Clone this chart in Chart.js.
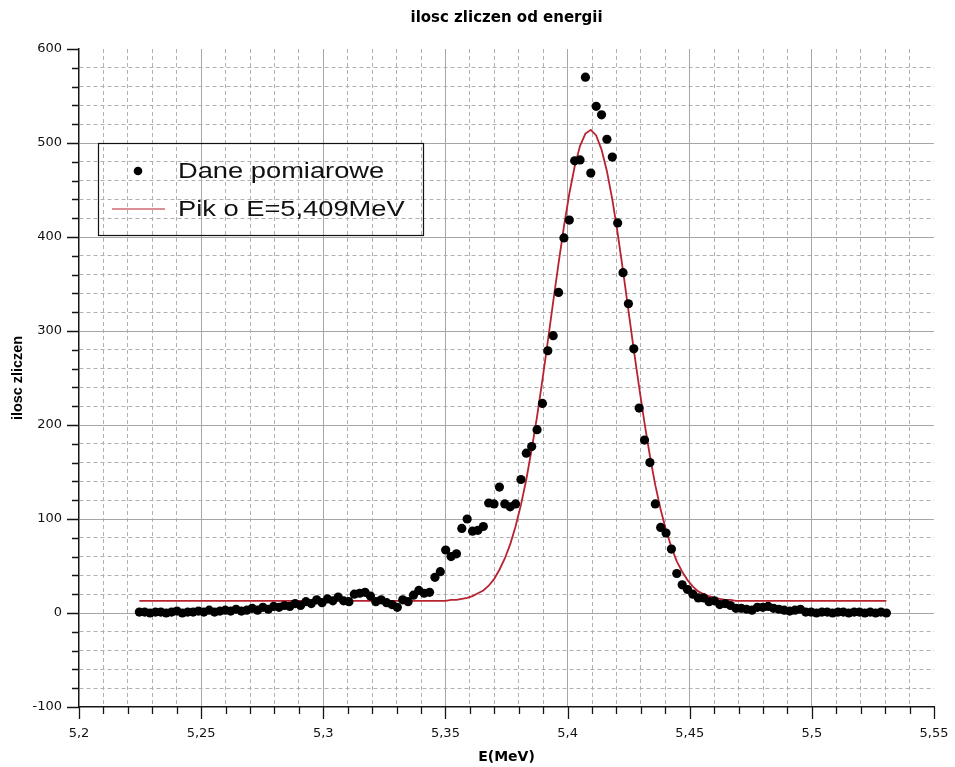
<!DOCTYPE html>
<html><head><meta charset="utf-8">
<script src="https://cdn.jsdelivr.net/npm/chart.js@4.4.1/dist/chart.umd.min.js"></script>
<style>html,body{margin:0;padding:0;background:#fff;}#wrap{width:955px;height:767px;}</style>
</head><body>
<div id="wrap"><canvas id="c" width="955" height="767"></canvas></div>
<script>
const chartTitle = 'ilosc zliczen od energii';
const xTitle = 'E(MeV)';
const yTitle = 'ilosc zliczen';
const seriesNames = ['Dane pomiarowe', 'Pik o E=5,409MeV'];
const xMajorTicks = [5.2, 5.25, 5.3, 5.35, 5.4, 5.45, 5.5, 5.55];
const yMajorTicks = [-100, 0, 100, 200, 300, 400, 500, 600];

const energyMeV = [
5.2247,5.2269,5.2291,5.2313,5.2335,5.2357,5.2379,5.2401,5.2423,5.2445,
5.2467,5.2489,5.2511,5.2533,5.2555,5.2577,5.2599,5.2621,5.2643,5.2665,
5.2687,5.2709,5.2731,5.2753,5.2775,5.2797,5.2819,5.2841,5.2863,5.2885,
5.2907,5.2929,5.2951,5.2973,5.2995,5.3017,5.3039,5.3061,5.3083,5.3105,
5.3127,5.3149,5.3171,5.3193,5.3215,5.3237,5.3259,5.3281,5.3303,5.3325,
5.3347,5.3369,5.3391,5.3413,5.3435,5.3457,5.3479,5.3501,5.3523,5.3545,
5.3567,5.3589,5.3611,5.3633,5.3655,5.3677,5.3699,5.3721,5.3743,5.3765,
5.3787,5.3809,5.3831,5.3853,5.3875,5.3897,5.3919,5.3941,5.3963,5.3985,
5.4007,5.4029,5.4051,5.4073,5.4095,5.4117,5.4139,5.4161,5.4183,5.4205,
5.4227,5.4249,5.4271,5.4293,5.4315,5.4337,5.4359,5.4381,5.4403,5.4425,
5.4447,5.4469,5.4491,5.4513,5.4535,5.4557,5.4579,5.4601,5.4623,5.4645,
5.4667,5.4689,5.4711,5.4733,5.4755,5.4777,5.4799,5.4821,5.4843,5.4865,
5.4887,5.4909,5.4931,5.4953,5.4975,5.4997,5.5019,5.5041,5.5063,5.5085,
5.5107,5.5129,5.5151,5.5173,5.5195,5.5217,5.5239,5.5261,5.5283,5.5305];

const counts = [
1,1,0,1,1,0,1,2,0,1,
1,2,1,3,1,2,3,2,4,2,
3,5,3,6,4,7,6,8,7,10,
8,12,10,14,11,15,13,17,13,12,
20,21,22,18,12,14,11,9,6,14,
12,19,24,21,22,38,44,67,60,63,
90,100,87,88,92,117,116,134,116,113,
116,142,170,177,195,223,279,295,341,399,
418,481,482,570,468,539,530,504,485,415,
362,329,281,218,184,160,116,91,85,68,
42,30,25,20,16,16,12,13,9,10,
8,5,5,4,3,6,6,7,5,4,
3,2,3,4,1,1,0,1,1,0,
1,1,0,1,1,0,1,0,1,0];

const fitCounts = [
13,13,13,13,13,13,13,13,13,13,
13,13,13,13,13,13,13,13,13,13,
13,13,13,13,13,13,13,13,13,13,
13,13,13,13,13,13,13,13,13,13,
13,13,13,13,13,13,13,13,13,13,
13,13,13,13,13,13,13,13,14,14,
15,16,18,21,24,29,36,46,58,73,
92,115,142,174,209,248,289,331,372,411,
446,475,497,510,514,508,493,470,440,404,
364,322,280,240,202,167,136,110,88,70,
55,44,35,28,23,20,18,16,15,14,
14,13,13,13,13,13,13,13,13,13,
13,13,13,13,13,13,13,13,13,13,
13,13,13,13,13,13,13,13,13,13];

const isMajorX = v => xMajorTicks.some(m => Math.abs(m - v) < 1e-6);
const isMajorY = v => yMajorTicks.some(m => Math.abs(m - v) < 1e-6);
const fmt = v => String(Math.round(v * 1000) / 1000).replace('.', ',');

const tickFont = {family: '"DejaVu Sans", sans-serif', size: 13};

const tickMarks = {
  id: 'tickMarks',
  afterDraw(chart) {
    const ctx = chart.ctx;
    const xs = chart.scales.x, ys = chart.scales.y;
    ctx.save();
    ctx.strokeStyle = '#151515';
    ctx.lineWidth = 1.3;
    ctx.beginPath();
    xs.ticks.forEach(t => {
      const px = Math.round(xs.getPixelForValue(t.value)) + 0.5;
      const len = isMajorX(t.value) ? 12 : 7;
      ctx.moveTo(px, ys.bottom); ctx.lineTo(px, ys.bottom + len);
    });
    ys.ticks.forEach(t => {
      const py = Math.round(ys.getPixelForValue(t.value)) + 0.5;
      const len = isMajorY(t.value) ? 12 : 7;
      ctx.moveTo(xs.left, py); ctx.lineTo(xs.left - len, py);
    });
    ctx.stroke();
    ctx.restore();
  }
};

const boxLegend = {
  id: 'boxLegend',
  afterDraw(chart) {
    const ctx = chart.ctx;
    const a = chart.chartArea;
    const ds = chart.data.datasets;
    const bx = a.left + 19, by = a.top + 94, bw = 325, bh = 92;
    ctx.save();
    ctx.strokeStyle = '#111';
    ctx.lineWidth = 1.2;
    ctx.strokeRect(bx + 0.5, by + 0.5, bw, bh);
    ctx.fillStyle = '#000';
    ctx.beginPath();
    ctx.arc(bx + 40, by + 28, 4.3, 0, Math.PI * 2);
    ctx.fill();
    ctx.strokeStyle = ds[1].borderColor;
    ctx.lineWidth = 1.2;
    ctx.beginPath();
    ctx.moveTo(bx + 14, by + 66); ctx.lineTo(bx + 67, by + 66);
    ctx.stroke();
    ctx.fillStyle = '#111';
    ctx.font = '22px "Liberation Sans", Arial, sans-serif';
    ctx.textBaseline = 'middle';
    ctx.textAlign = 'left';
    [[ds[0].label, by + 29], [ds[1].label, by + 67]].forEach(([txt, y]) => {
      ctx.save();
      ctx.translate(bx + 80, y);
      ctx.scale(1.24, 1);
      ctx.fillText(txt, 0, 0);
      ctx.restore();
    });
    ctx.restore();
  }
};

new Chart(document.getElementById('c'), {
  type: 'scatter',
  data: {
    datasets: [
      {
        label: seriesNames[0],
        data: energyMeV.map((e, i) => ({x: e, y: counts[i]})),
        pointRadius: 4.6,
        pointBackgroundColor: '#000',
        pointBorderColor: '#000',
        pointBorderWidth: 0,
        showLine: false,
        order: 0
      },
      {
        label: seriesNames[1],
        type: 'line',
        data: energyMeV.map((e, i) => ({x: e, y: fitCounts[i]})),
        borderColor: '#b82231',
        borderWidth: 1.8,
        pointRadius: 0,
        fill: false,
        tension: 0,
        order: 1
      }
    ]
  },
  options: {
    responsive: false,
    animation: false,
    devicePixelRatio: 1,
    layout: {padding: {left: 0, right: 15, top: 0, bottom: 0}},
    plugins: {
      legend: {display: false},
      tooltip: {enabled: false},
      title: {display: false}
    },
    scales: {
      xTop: {
        type: 'linear', position: 'top', min: 5.2, max: 5.55,
        afterFit: s => { s.height = 49; },
        ticks: {display: false},
        grid: {display: false, drawTicks: false},
        border: {display: false},
        title: {
          display: true, text: chartTitle, color: '#000',
          font: {family: '"DejaVu Sans", sans-serif', size: 15, weight: 'bold'},
          padding: {top: 9, bottom: 0}
        }
      },
      x: {
        type: 'linear', position: 'bottom', min: 5.2, max: 5.55,
        afterFit: s => { s.height = 60; },
        ticks: {
          stepSize: 0.01, autoSkip: false, maxRotation: 0, minRotation: 0, padding: 6.5,
          color: '#111', font: tickFont,
          callback: v => isMajorX(v) ? fmt(v) : ''
        },
        grid: {
          color: c => {
            const v = c.tick ? c.tick.value : null;
            if (v === null || Math.abs(v - 5.2) < 1e-6 || Math.abs(v - 5.55) < 1e-6) return 'rgba(0,0,0,0)';
            return isMajorX(v) ? '#a6a6a6' : '#b0b0b0';
          },
          lineWidth: 1, drawTicks: true, tickLength: 12, tickColor: 'rgba(0,0,0,0)'
        },
        border: {
          display: true, color: '#151515', width: 1.5,
          dash: c => (c.tick && !isMajorX(c.tick.value)) ? [4, 3] : []
        },
        title: {
          display: true, text: xTitle, color: '#000',
          font: {family: '"DejaVu Sans", sans-serif', size: 14, weight: 'bold'},
          padding: {top: 0, bottom: 1.6}
        }
      },
      y: {
        type: 'linear', position: 'left', min: -100, max: 600,
        afterFit: s => { s.width = 79; },
        ticks: {
          stepSize: 20, autoSkip: false, padding: 5,
          color: '#111', font: tickFont,
          callback: v => isMajorY(v) ? String(v) : ''
        },
        grid: {
          color: c => {
            const v = c.tick ? c.tick.value : null;
            if (v === null || v === -100 || v === 600) return 'rgba(0,0,0,0)';
            return isMajorY(v) ? '#a6a6a6' : '#b0b0b0';
          },
          lineWidth: 1, drawTicks: true, tickLength: 12, tickColor: 'rgba(0,0,0,0)'
        },
        border: {
          display: true, color: '#151515', width: 1.5,
          dash: c => (c.tick && !isMajorY(c.tick.value)) ? [4, 3] : []
        },
        title: {
          display: true, text: yTitle, color: '#000',
          font: {family: '"Liberation Sans", Arial, sans-serif', size: 14.4, weight: 'bold'},
          padding: {top: 9.4, bottom: 0}
        }
      }
    }
  },
  plugins: [tickMarks, boxLegend]
});
</script>
</body></html>
